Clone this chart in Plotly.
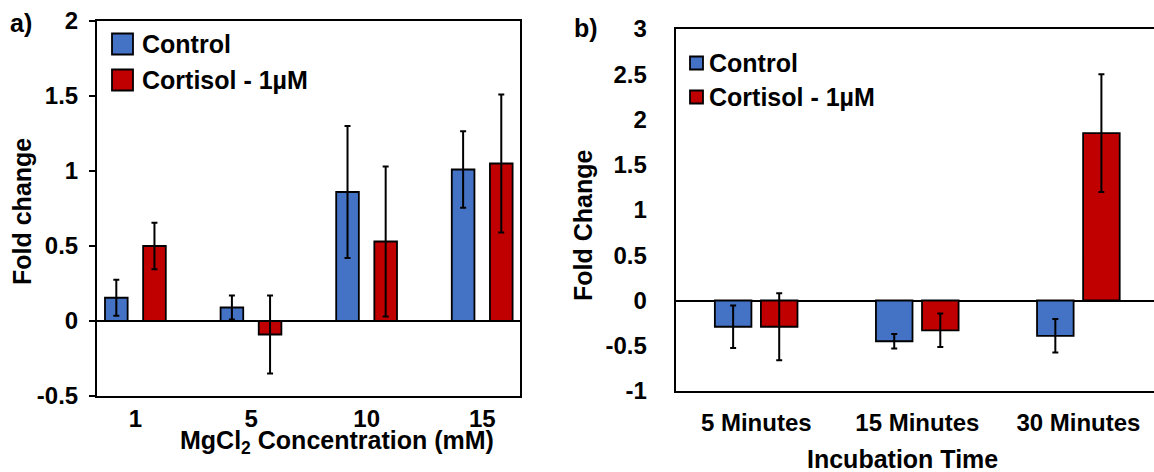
import plotly.graph_objects as go
from plotly.subplots import make_subplots

# ---- data ----
conc_labels = ["1", "5", "10", "15"]
control_mg = [0.155, 0.09, 0.86, 1.01]
control_mg_err = [0.12, 0.08, 0.44, 0.255]
cortisol_mg = [0.50, -0.09, 0.53, 1.05]
cortisol_mg_err = [0.155, 0.26, 0.50, 0.46]

time_labels = ["5 Minutes", "15 Minutes", "30 Minutes"]
control_time = [-0.29, -0.45, -0.39]
control_time_err = [0.235, 0.08, 0.185]
cortisol_time = [-0.29, -0.33, 1.85]
cortisol_time_err = [0.37, 0.185, 0.65]

series_names = ["Control", "Cortisol - 1\u00b5M"]

# y tick values and their printed labels (plain hyphen minus)
yticks_mg = [-0.5, 0, 0.5, 1, 1.5, 2]
yticks_mg_text = ["-0.5", "0", "0.5", "1", "1.5", "2"]
yticks_time = [-1, -0.5, 0, 0.5, 1, 1.5, 2, 2.5, 3]
yticks_time_text = ["-1", "-0.5", "0", "0.5", "1", "1.5", "2", "2.5", "3"]

BLUE = "#4472C4"
RED = "#C00000"

W, H = 1154, 472
FONT = "Liberation Sans, Arial, sans-serif"


def px(x):
    return x / W


def py(y):
    return 1 - y / H


fig = make_subplots(rows=1, cols=2)

err_style = dict(type="data", visible=True, color="black", thickness=2, width=3)
bar_line = dict(color="black", width=1.8)

# panel a: MgCl2 concentration
fig.add_trace(go.Bar(x=conc_labels, y=control_mg, name=series_names[0],
                     marker=dict(color=BLUE, line=bar_line), width=0.196, offset=-0.264,
                     error_y=dict(array=control_mg_err, **err_style), showlegend=False),
              row=1, col=1)
fig.add_trace(go.Bar(x=conc_labels, y=cortisol_mg, name=series_names[1],
                     marker=dict(color=RED, line=bar_line), width=0.196, offset=0.066,
                     error_y=dict(array=cortisol_mg_err, **err_style), showlegend=False),
              row=1, col=1)

# panel b: incubation time
fig.add_trace(go.Bar(x=time_labels, y=control_time, name=series_names[0],
                     marker=dict(color=BLUE, line=bar_line), width=0.227, offset=-0.257,
                     error_y=dict(array=control_time_err, **err_style), showlegend=False),
              row=1, col=2)
fig.add_trace(go.Bar(x=time_labels, y=cortisol_time, name=series_names[1],
                     marker=dict(color=RED, line=bar_line), width=0.227, offset=0.029,
                     error_y=dict(array=cortisol_time_err, **err_style), showlegend=False),
              row=1, col=2)

tick_font = dict(family=FONT, size=24, color="black", weight="bold")

fig.update_layout(
    width=W, height=H,
    margin=dict(l=0, r=0, t=0, b=0, pad=0, autoexpand=False),
    showlegend=False,
    paper_bgcolor="white", plot_bgcolor="white",
    barmode="overlay",
    font=dict(family=FONT, color="black"),
    xaxis=dict(domain=[px(97), px(520)], range=[-0.333, 3.326], automargin=False,
               showline=True, linecolor="black", linewidth=2, mirror=True,
               ticks="", showgrid=False, zeroline=False, tickfont=tick_font,
               ticklabelstandoff=0),
    yaxis=dict(domain=[py(396), py(21)], range=[-0.5, 2], automargin=False,
               tickvals=yticks_mg, ticktext=yticks_mg_text,
               showline=True, linecolor="black", linewidth=2, mirror=True,
               ticks="outside", ticklen=6, tickwidth=1.5, tickcolor="black",
               showgrid=False, zeroline=True, zerolinecolor="black", zerolinewidth=2,
               tickfont=tick_font, ticklabelstandoff=6),
    xaxis2=dict(domain=[px(675.7), 1.0], range=[-0.5, 2.469], automargin=False,
                showline=True, linecolor="black", linewidth=2, mirror=True,
                ticks="", showgrid=False, zeroline=False, tickfont=tick_font,
                ticklabelstandoff=9),
    yaxis2=dict(domain=[py(391), py(29)], range=[-1, 3], automargin=False,
                tickvals=yticks_time, ticktext=yticks_time_text,
                showline=True, linecolor="black", linewidth=2, mirror=False,
                ticks="", showgrid=False, zeroline=True, zerolinecolor="black",
                zerolinewidth=2, tickfont=tick_font, ticklabelstandoff=22),
)

title_font = dict(family=FONT, size=25, color="black", weight="bold")
legend_font = dict(family=FONT, size=25, color="black", weight="bold")
panel_font = dict(family=FONT, size=25, color="black", weight="bold")

annotations = [
    dict(text="a)", x=px(21), y=py(23), font=panel_font),
    dict(text="b)", x=px(586), y=py(28), font=panel_font),
    dict(text="Fold change", x=px(22), y=py(212), textangle=-90, font=title_font),
    dict(text="Fold Change", x=px(583), y=py(226), textangle=-90, font=title_font),
    dict(text="MgCl<sub>2</sub> Concentration (mM)", x=px(337), y=py(442), font=title_font),
    dict(text="Incubation Time", x=px(902), y=py(459), font=title_font),
]
for a in annotations:
    a.update(xref="paper", yref="paper", showarrow=False, xanchor="center", yanchor="middle")

# legend keys for both panels
shapes = []
legend_rows = [
    # (box x0, box size, row centres, text x)
    (112, 21, [44, 80], 140),
    (690, 13, [63, 97], 707),
]
for bx, size, rows, tx in legend_rows:
    for cy, color, name in zip(rows, [BLUE, RED], series_names):
        shapes.append(dict(type="rect", xref="paper", yref="paper",
                           x0=px(bx), x1=px(bx + size), y0=py(cy + size / 2), y1=py(cy - size / 2),
                           fillcolor=color, line=dict(color="black", width=1.8)))
        annotations.append(dict(text=name, x=px(tx), y=py(cy), xref="paper", yref="paper",
                                showarrow=False, xanchor="left", yanchor="middle",
                                font=legend_font))

fig.update_layout(annotations=annotations, shapes=shapes)

fig.write_html("out.html")
